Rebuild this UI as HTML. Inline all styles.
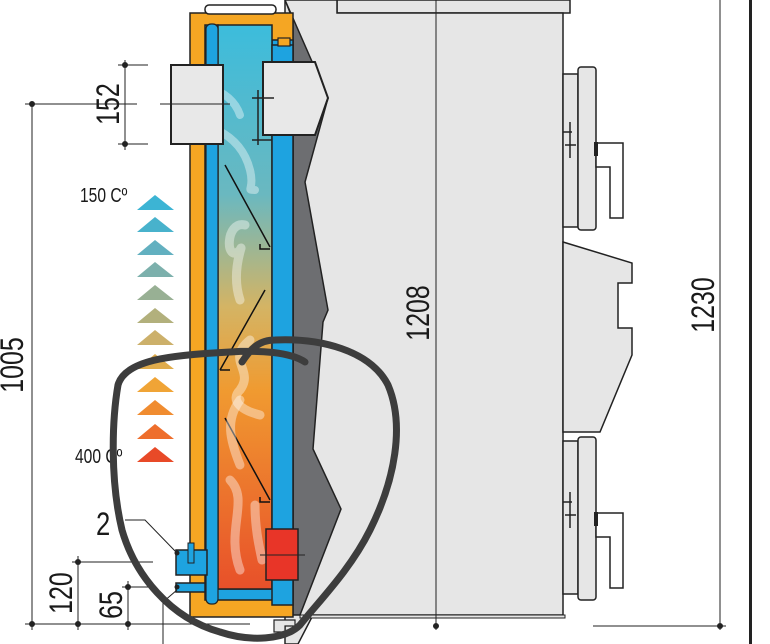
<!DOCTYPE html>
<html><head><meta charset="utf-8"><style>
html,body{margin:0;padding:0;background:#fff;}
svg{display:block;}
text{font-family:"Liberation Sans",sans-serif;fill:#1a1a1a;}
</style></head><body>
<svg width="770" height="644" viewBox="0 0 770 644" xmlns="http://www.w3.org/2000/svg">
<defs>
<linearGradient id="ch" x1="0" y1="0" x2="0" y2="1">
<stop offset="0" stop-color="#3cbcdc"/>
<stop offset="0.3" stop-color="#6ab8c0"/>
<stop offset="0.5" stop-color="#d4b464"/>
<stop offset="0.65" stop-color="#f09a30"/>
<stop offset="1" stop-color="#e8502a"/>
</linearGradient>
</defs>
<!-- main body -->
<rect x="337" y="0" width="233" height="13" fill="#e6e6e6" stroke="#222" stroke-width="1.5"/>
<rect x="314" y="0" width="8" height="8" fill="#fff" stroke="#222" stroke-width="1.2"/>
<polygon points="285,0 337,0 337,13 563,13 563,615 313,615 298,644 285,644" fill="#e6e6e6" stroke="#222" stroke-width="1.5"/>
<rect x="300" y="615" width="265" height="3" fill="#e6e6e6" stroke="#222" stroke-width="1"/>
<!-- doors -->
<g stroke="#222" stroke-width="1.5" fill="#e6e6e6">
<rect x="563" y="74" width="15" height="153"/>
<rect x="578" y="67" width="18" height="163" rx="3"/>
<path d="M596,143 H623 V167 H623 V218 H610 V167 H596 Z" fill="#fff"/>
<rect x="563" y="441" width="15" height="153"/>
<rect x="578" y="437" width="18" height="163" rx="3"/>
<path d="M596,513 H623 V537 V588 H610 V537 H596 Z" fill="#fff"/>
<polygon points="563,242 632,263 632,283 618,283 618,328 632,328 632,355 600,432 563,432"/>
</g>
<rect x="594" y="142" width="4" height="14" fill="#222"/>
<rect x="594" y="512" width="4" height="14" fill="#222"/>
<path d="M563,132 H572 M570,122 V158 M565,145 H576" stroke="#222" stroke-width="1.5" fill="none"/>
<path d="M563,502 H572 M570,492 V528 M565,515 H576" stroke="#222" stroke-width="1.5" fill="none"/>
<!-- dark gray strip -->
<polygon points="285,0 328,98 305,182 328,310 323,322 313,449 341,509 300,615 293,615 293,20" fill="#6d6e71" stroke="#222" stroke-width="1.5"/>
<!-- orange casing -->
<rect x="190" y="13" width="103" height="604" fill="#f5a623" stroke="#222" stroke-width="1.5"/>
<!-- blue jacket -->
<path d="M205,25 H218 V589 H272 V40 H293 V600 H205 Z" fill="#1ea3e0" stroke="#222" stroke-width="1.5"/>
<rect x="218" y="25" width="54" height="564" fill="url(#ch)" stroke="#222" stroke-width="1.5"/>
<rect x="206" y="24" width="12" height="580" rx="5" fill="#1ea3e0" stroke="#222" stroke-width="1.2"/>
<rect x="272" y="45" width="21" height="560" fill="#1ea3e0" stroke="#222" stroke-width="1.5"/>
<rect x="205" y="5" width="71" height="9" rx="4" fill="#fff" stroke="#222" stroke-width="1.5"/>
<rect x="278" y="38" width="12" height="8" fill="#f5a623" stroke="#222" stroke-width="1.2"/>
<!-- baffles -->
<g stroke="#111" stroke-width="1.5" fill="none">
<path d="M225,165 L270,247 M260,244 V249 H270"/>
<path d="M265,290 L220,370 M220,370 H230"/>
<path d="M225,418 L270,500 M260,497 V502 H270"/>
</g>
<!-- smoke -->
<g fill="none" stroke="#fff" stroke-opacity="0.4" stroke-linecap="round">
<path d="M150,78 C190,80 230,85 240,115" stroke-width="8"/>
<path d="M155,120 C200,118 240,130 250,170 C255,190 245,190 255,190" stroke-width="8"/>
<path d="M245,225 C225,220 225,265 240,250 C245,240 230,270 240,300" stroke-width="9"/>
<path d="M250,340 C225,360 255,370 240,390 C230,400 240,410 260,415" stroke-width="9"/>
<path d="M240,400 C225,420 230,440 240,465" stroke-width="9"/>
<path d="M230,480 C250,500 225,530 240,570 M255,505 C255,530 260,550 262,560" stroke-width="9"/>
</g>
<!-- flue pipe -->
<rect x="171" y="65" width="52" height="79" fill="#e8e8e8" stroke="#222" stroke-width="2"/>
<line x1="160" y1="104" x2="230" y2="104" stroke="#222" stroke-width="1"/>
<!-- upper door box -->
<polygon points="263,62 315,62 328,98 315,135 263,135" fill="#e8e8e8" stroke="#222" stroke-width="2"/>
<path d="M258,90 V145 M252,98 H274 M252,140 H272" stroke="#222" stroke-width="1.5" fill="none"/>
<!-- red box -->
<rect x="266" y="529" width="32" height="51" fill="#e83528" stroke="#222" stroke-width="1.5"/>
<line x1="260" y1="555" x2="305" y2="555" stroke="#222" stroke-width="1"/>
<!-- small blue boxes -->
<rect x="176" y="550" width="31" height="25" fill="#1ea3e0" stroke="#222" stroke-width="1.5"/>
<rect x="176" y="583" width="29" height="9" fill="#1ea3e0" stroke="#222" stroke-width="1.5"/>
<rect x="188" y="543" width="6" height="20" fill="#1ea3e0" stroke="#222" stroke-width="1"/>
<!-- foot -->
<path d="M274,620 H295 V626 H285 V632 H274 Z" fill="#e6e6e6" stroke="#222" stroke-width="1.2"/>
<!-- triangles -->
<g>
<polygon points="137,210 155,195 174,210" fill="#3cb4d4"/>
<polygon points="137,232 155,217 174,232" fill="#48b2cc"/>
<polygon points="137,255 155,240 174,255" fill="#62b0c0"/>
<polygon points="137,277 155,262 174,277" fill="#7cb0ac"/>
<polygon points="137,300 155,285 174,300" fill="#98b094"/>
<polygon points="137,323 155,308 174,323" fill="#b2b07c"/>
<polygon points="137,345 155,330 174,345" fill="#ccb06a"/>
<polygon points="137,369 155,354 174,369" fill="#e0ac4c"/>
<polygon points="137,392 155,377 174,392" fill="#f0a436"/>
<polygon points="137,415 155,400 174,415" fill="#f08c30"/>
<polygon points="137,439 155,424 174,439" fill="#ee6e2c"/>
<polygon points="137,462 155,447 174,462" fill="#e84a28"/>
</g>
<text font-size="20" transform="translate(80,202) scale(0.78,1)">150 Cº</text>
<text font-size="20" transform="translate(75,463) scale(0.78,1)">400 Cº</text>
<!-- dimensions -->
<g stroke="#222" stroke-width="1" fill="none">
<path d="M118,65 H148 M118,144 H148 M125,60 V150"/>
<path d="M25,104 H137 M32,104 V630"/>
<path d="M25,624 H250 M72,562 H153 M78,556 V630 M122,587 H153 M128,581 V630"/>
<path d="M125,520 H145 L177,553"/>
<path d="M163,602 V644 M163,602 L177,590"/>
<path d="M436,0 V630 M593,626 H726 M720,0 V630"/>
</g>
<rect x="749" y="0" width="3" height="644" fill="#222"/>
<g fill="#222">
<circle cx="125" cy="65" r="3"/><circle cx="125" cy="144" r="3"/>
<circle cx="32" cy="104" r="3"/><circle cx="32" cy="624" r="3"/>
<circle cx="78" cy="562" r="3"/><circle cx="78" cy="624" r="3"/>
<circle cx="128" cy="587" r="3"/><circle cx="128" cy="624" r="3"/>
<circle cx="436" cy="626" r="3"/><circle cx="720" cy="626" r="3"/>
<circle cx="177" cy="553" r="2.5"/><circle cx="177" cy="587" r="2.5"/>
</g>
<g font-size="32">
<text transform="translate(119,104) rotate(-90) scale(0.78,1)" text-anchor="middle">152</text>
<text transform="translate(23,365) rotate(-90) scale(0.78,1)" text-anchor="middle">1005</text>
<text transform="translate(72,593) rotate(-90) scale(0.78,1)" text-anchor="middle">120</text>
<text transform="translate(122,605) rotate(-90) scale(0.78,1)" text-anchor="middle">65</text>
<text transform="translate(429,313) rotate(-90) scale(0.78,1)" text-anchor="middle">1208</text>
<text transform="translate(714,305) rotate(-90) scale(0.78,1)" text-anchor="middle">1230</text>
<text transform="translate(96,535) scale(0.8,1)">2</text>
</g>
<!-- hand drawn loop -->
<path d="M242,362 C250,350 258,340 275,340 C320,338 370,350 388,385 C405,425 395,480 370,530 C350,570 320,600 300,625 C285,640 250,642 220,632 C170,618 135,575 122,530 C110,480 112,420 118,385 C125,360 170,355 230,352 C260,350 290,352 305,362" fill="none" stroke="#3d3d3d" stroke-width="7" stroke-linecap="round"/>
</svg>
</body></html>
